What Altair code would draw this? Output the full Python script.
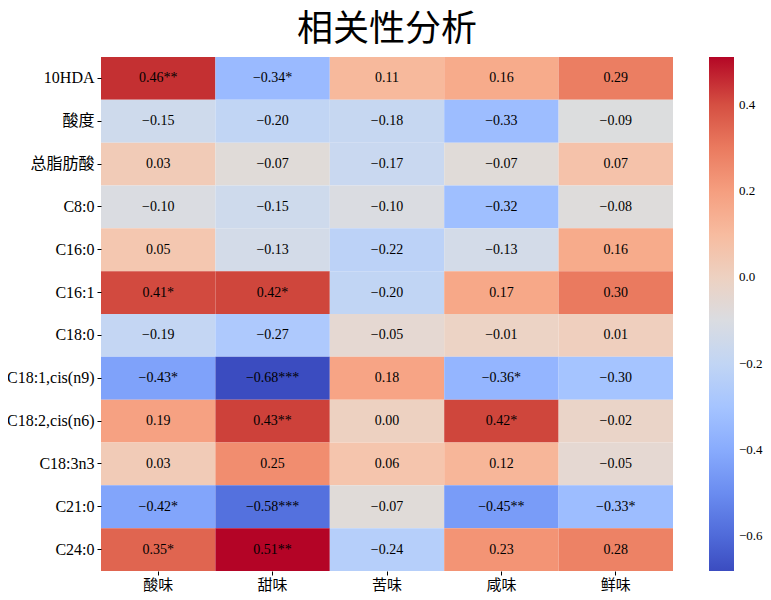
import altair as alt
import pandas as pd

rows = ["10HDA", "酸度", "总脂肪酸", "C8:0", "C16:0", "C16:1", "C18:0",
        "C18:1,cis(n9)", "C18:2,cis(n6)", "C18:3n3", "C21:0", "C24:0"]
cols = ["酸味", "甜味", "苦味", "咸味", "鲜味"]

values = [
    [0.46, -0.34, 0.11, 0.16, 0.29],
    [-0.15, -0.20, -0.18, -0.33, -0.09],
    [0.03, -0.07, -0.17, -0.07, 0.07],
    [-0.10, -0.15, -0.10, -0.32, -0.08],
    [0.05, -0.13, -0.22, -0.13, 0.16],
    [0.41, 0.42, -0.20, 0.17, 0.30],
    [-0.19, -0.27, -0.05, -0.01, 0.01],
    [-0.43, -0.68, 0.18, -0.36, -0.30],
    [0.19, 0.43, 0.00, 0.42, -0.02],
    [0.03, 0.25, 0.06, 0.12, -0.05],
    [-0.42, -0.58, -0.07, -0.45, -0.33],
    [0.35, 0.51, -0.24, 0.23, 0.28],
]
stars = [
    ["**", "*", "", "", ""],
    ["", "", "", "", ""],
    ["", "", "", "", ""],
    ["", "", "", "", ""],
    ["", "", "", "", ""],
    ["*", "*", "", "", ""],
    ["", "", "", "", ""],
    ["*", "***", "", "*", ""],
    ["", "**", "", "*", ""],
    ["", "", "", "", ""],
    ["*", "***", "", "**", "*"],
    ["*", "**", "", "", ""],
]
colorbar_ticks = [-0.6, -0.4, -0.2, 0.0, 0.2, 0.4]

records = []
for i, r in enumerate(rows):
    for j, c in enumerate(cols):
        v = values[i][j]
        lab = f"{v:.2f}".replace("-", "\u2212") + stars[i][j]
        records.append({"row": r, "col": c, "value": v, "label": lab})
df = pd.DataFrame(records)

# matplotlib "coolwarm" colour stops
coolwarm = [
    "#3b4cc0", "#445acc", "#4d68d7", "#5775e1", "#6282ea", "#6c8ef1", "#779af7",
    "#82a5fb", "#8db0fe", "#98b9ff", "#a3c2ff", "#aec9fd", "#b8d0f9", "#c2d5f4",
    "#ccd9ee", "#d5dbe6", "#dddddd", "#e5d8d1", "#ecd3c5", "#f1ccb8", "#f5c4ac",
    "#f7bb9f", "#f7b193", "#f7a686", "#f49a7b", "#f18d6f", "#ec7f63", "#e57058",
    "#de604d", "#d55042", "#cb3e38", "#c0282f", "#b40426",
]
flat = [v for row in values for v in row]
vmin, vmax = min(flat), max(flat)
n = len(coolwarm)
domain = [vmin + k * (vmax - vmin) / (n - 1) for k in range(n)]

LATIN = "Liberation Serif, Noto Sans CJK SC"
W, H = 572, 514

color_scale = alt.Scale(domain=domain, range=coolwarm, interpolate="rgb", nice=False, zero=False)

base = alt.Chart(df).encode(
    x=alt.X("col:N", sort=cols, title=None,
            axis=alt.Axis(labelAngle=0, labelFontSize=15, labelFont=LATIN, labelColor="black",
                          tickSize=4, tickColor="black", domain=False, labelPadding=2)),
    y=alt.Y("row:N", sort=rows, title=None,
            axis=alt.Axis(labelFontSize=16, labelFont=LATIN, labelColor="black",
                          tickSize=4, tickColor="black", domain=False, labelPadding=3)),
)

rect = base.mark_rect().encode(
    color=alt.Color("value:Q", scale=color_scale,
                    legend=alt.Legend(orient="none", legendX=W + 36, legendY=0, direction="vertical",
                                      gradientLength=H, gradientThickness=25, title=None,
                                      values=colorbar_ticks, format=".1f", labelFontSize=13,
                                      labelFont=LATIN, labelColor="black", labelOffset=5,
                                      gradientStrokeWidth=0, padding=0))
)
text = base.mark_text(fontSize=14, font=LATIN, color="black").encode(text="label:N")

chart = alt.layer(rect, text).properties(
    width=W, height=H,
    title=alt.Title("相关性分析", fontSize=36, font="Noto Sans CJK SC", fontWeight="normal",
                    color="black", offset=8, anchor="middle"),
    autosize=alt.AutoSizeParams(type="none"),
    padding={"left": 93, "top": 49, "right": 90, "bottom": 27},
).configure_view(stroke=None)

chart.save("out.html", embed_options={"renderer": "svg", "actions": False})
